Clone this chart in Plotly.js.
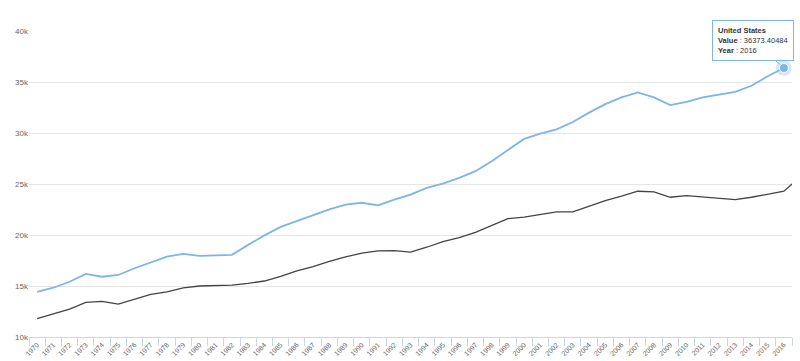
<!DOCTYPE html>
<html>
<head>
<meta charset="utf-8">
<script src="https://cdn.plot.ly/plotly-3.0.1.min.js"></script>
<style>html,body{margin:0;padding:0;background:#fff;}#chart{width:800px;height:361px;}</style>
</head>
<body>
<div id="chart"></div>
<script>
// Categories (years); the second series has one extra year beyond the visible range
const years = ['1970','1971','1972','1973','1974','1975','1976','1977','1978','1979',
  '1980','1981','1982','1983','1984','1985','1986','1987','1988','1989',
  '1990','1991','1992','1993','1994','1995','1996','1997','1998','1999',
  '2000','2001','2002','2003','2004','2005','2006','2007','2008','2009',
  '2010','2011','2012','2013','2014','2015','2016','2017'];

const unitedStates = [14430,14830,15420,16180,15910,16080,16740,17300,17880,18150,
  17950,18000,18060,19030,19960,20790,21370,21910,22520,22970,
  23160,22900,23470,23960,24620,25040,25600,26260,27240,28330,
  29420,29940,30360,31080,32000,32830,33490,33980,33490,32730,
  33050,33490,33740,34040,34630,35560,36373.40484];

const otherSeries = [11810,12240,12730,13390,13490,13220,13710,14170,14430,14820,
  15000,15020,15090,15260,15490,15950,16480,16900,17420,17850,
  18220,18450,18470,18320,18800,19360,19750,20250,20940,21600,
  21760,21990,22260,22260,22810,23370,23800,24290,24230,23700,
  23860,23730,23540,23470,23700,23990,24290,25700];

const seriesName = 'United States';
const yTickVals = [10000,15000,20000,25000,30000,35000,40000];

const lastIdx = unitedStates.length - 1;
const lastYear = years[lastIdx];
const lastVal = unitedStates[lastIdx];

const traces = [
  {x: years, y: otherSeries, type: 'scatter', mode: 'lines',
   line: {color: '#434348', width: 1.3}, hoverinfo: 'skip'},
  {x: years.slice(0, unitedStates.length), y: unitedStates, type: 'scatter', mode: 'lines',
   line: {color: '#7cb5ec', width: 1.8}, hoverinfo: 'skip'},
  {x: [lastYear], y: [lastVal], type: 'scatter', mode: 'markers',
   marker: {color: 'rgba(124,181,236,0.3)', size: 16}, hoverinfo: 'skip'},
  {x: [lastYear], y: [lastVal], type: 'scatter', mode: 'markers',
   marker: {color: '#7cb5ec', size: 9, line: {color: '#ffffff', width: 1}}, hoverinfo: 'skip'}
];

const layout = {
  width: 800, height: 361,
  margin: {l: 29, r: 8, t: 31, b: 24, pad: 0},
  paper_bgcolor: '#ffffff', plot_bgcolor: '#ffffff',
  showlegend: false,
  font: {family: 'Liberation Sans, Arial, sans-serif', color: '#666666', size: 8},
  xaxis: {
    type: 'category',
    categoryorder: 'array', categoryarray: years,
    range: [-0.5, 46.5],
    tickson: 'boundaries',
    ticks: 'outside', ticklen: 8, tickcolor: '#ccd6eb', tickwidth: 1,
    showline: true, linecolor: '#ccd6eb', linewidth: 1,
    showgrid: false, zeroline: false,
    tickangle: -45,
    tickfont: {size: 7, color: '#666666'},
    automargin: false, fixedrange: true
  },
  yaxis: {
    range: [10000, 40000],
    tickvals: yTickVals, tickformat: '~s',
    showgrid: true, gridcolor: '#e6e6e6', gridwidth: 1,
    zeroline: false, showline: false, ticks: '',
    tickfont: {size: 8, color: '#666666'},
    automargin: false, fixedrange: true
  },
  annotations: [{
    x: lastIdx, y: lastVal, xref: 'x', yref: 'y',
    text: '<b>' + seriesName + '</b><br><b>Value</b> : ' + lastVal + '<br><b>Year</b> : ' + lastYear,
    align: 'left',
    showarrow: true, arrowhead: 0, arrowwidth: 1, arrowcolor: '#7cb5ec',
    ax: -31, ay: -27, standoff: 5,
    bgcolor: '#ffffff', bordercolor: '#7cb5ec', borderwidth: 1, borderpad: 5,
    font: {size: 7.5, color: '#333333', family: 'Liberation Sans, Arial, sans-serif'}
  }]
};

Plotly.newPlot('chart', traces, layout, {displayModeBar: false, staticPlot: true});
</script>
</body>
</html>
